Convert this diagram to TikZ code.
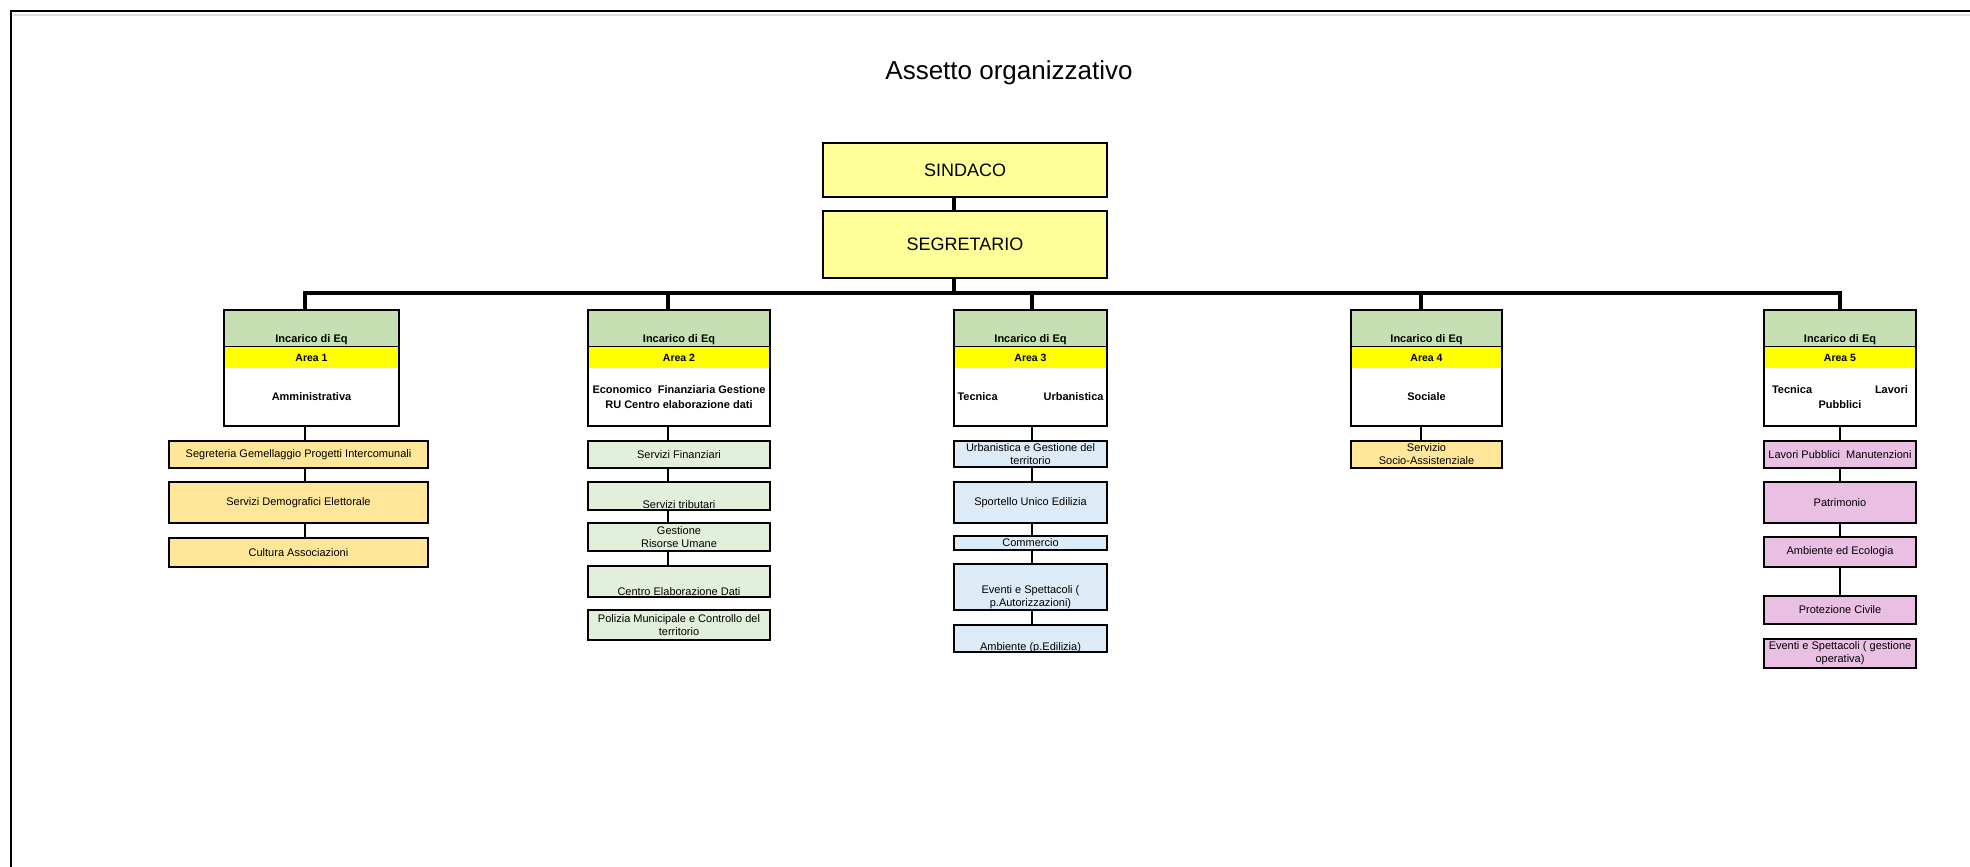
\documentclass[tikz,border=0pt]{standalone}
\usepackage{fontspec}
\setmainfont{Liberation Sans}
\definecolor{topyellow}{HTML}{FFFF99}
\definecolor{eqgreen}{HTML}{C6E0B4}
\definecolor{areayellow}{HTML}{FFFF00}
\definecolor{subtan}{HTML}{FFE699}
\definecolor{subgreen}{HTML}{E2EFDA}
\definecolor{subblue}{HTML}{DDEBF7}
\definecolor{subpink}{HTML}{EABFE4}

\begin{document}
\begin{tikzpicture}[x=1pt,y=-1pt,
  every node/.style={outer sep=0pt},
  main node/.style={draw,line width=1.3pt,fill=topyellow,minimum width=284pt,font=\fontsize{18}{20}\selectfont},
  eq node/.style={draw,line width=1.3pt,fill=eqgreen,minimum height=37pt,inner sep=1pt},
  eq label/.style={anchor=south,inner sep=1pt,yshift=1.5pt,font=\fontsize{11}{12}\selectfont\bfseries},
  area node/.style={fill=areayellow,minimum height=21pt,inner sep=1pt,font=\fontsize{10.5}{12}\selectfont\bfseries},
  name node/.style={fill=white,minimum height=58pt,inner sep=1pt,align=center,font=\fontsize{11}{15}\selectfont\bfseries},
  sub node/.style={draw,line width=1.3pt,fill=#1,inner sep=1pt,align=center,font=\fontsize{11}{13}\selectfont},
  low label/.style={anchor=south,inner sep=1pt,align=center,font=\fontsize{11}{13}\selectfont},
  thin link/.style={line width=1.3pt},
  bus link/.style={line width=4pt}]

  \useasboundingbox (0,0) rectangle (1970,867);
  \draw[line width=2.5pt] (11,867) -- (11,11) -- (1970,11);
  \draw[gray!25,line width=1.5pt] (13,15) -- (1970,15);

  \node[font=\fontsize{26}{30}\selectfont] (titolo) at (1009,73) {Assetto organizzativo};

  \node[main node,minimum height=54pt] (sindaco) at (965,170) {SINDACO};
  \node[main node,minimum height=67pt] (segretario) at (965,244.5) {SEGRETARIO};

  \coordinate (spine) at (954,293);
  \coordinate (a1x) at (305,293);
  \coordinate (a2x) at (668,293);
  \coordinate (a3x) at (1032,293);
  \coordinate (a4x) at (1421,293);
  \coordinate (a5x) at (1840,293);

  \node[eq node,minimum width=175pt,label={[eq label]south:Incarico di Eq}] (a1g) at (311.5,328.5) {};
  \node[area node,minimum width=175pt] (a1y) at (311.5,357.5) {Area 1};
  \node[name node,minimum width=175pt] (a1w) at (311.5,397) {Amministrativa};
  \node[sub node=subtan,minimum width=259pt,minimum height=27pt] (a1s1) at (298.5,454.5) {Segreteria Gemellaggio Progetti Intercomunali};
  \node[sub node=subtan,minimum width=259pt,minimum height=41pt] (a1s2) at (298.5,502.5) {Servizi Demografici Elettorale};
  \node[sub node=subtan,minimum width=259pt,minimum height=29pt] (a1s3) at (298.5,552.5) {Cultura Associazioni};

  \node[eq node,minimum width=182pt,label={[eq label]south:Incarico di Eq}] (a2g) at (679,328.5) {};
  \node[area node,minimum width=182pt] (a2y) at (679,357.5) {Area 2};
  \node[name node,minimum width=182pt] (a2w) at (679,397) {Economico~~Finanziaria Gestione\\RU Centro elaborazione dati};
  \node[sub node=subgreen,minimum width=182pt,minimum height=27pt] (a2s1) at (679,454.5) {Servizi Finanziari};
  \node[sub node=subgreen,minimum width=182pt,minimum height=28pt,label={[low label]south:Servizi tributari}] (a2s2) at (679,496) {};
  \node[sub node=subgreen,minimum width=182pt,minimum height=28pt] (a2s3) at (679,537) {Gestione\\Risorse Umane};
  \node[sub node=subgreen,minimum width=182pt,minimum height=31pt,label={[low label]south:Centro Elaborazione Dati}] (a2s4) at (679,581.5) {};
  \node[sub node=subgreen,minimum width=182pt,minimum height=30pt] (a2s5) at (679,625) {Polizia Municipale e Controllo del\\territorio};

  \node[eq node,minimum width=153pt,label={[eq label]south:Incarico di Eq}] (a3g) at (1030.5,328.5) {};
  \node[area node,minimum width=153pt] (a3y) at (1030.5,357.5) {Area 3};
  \node[name node,minimum width=153pt,text width=146pt,inner xsep=0pt] (a3w) at (1030.5,397) {Tecnica\hfill Urbanistica};
  \node[sub node=subblue,minimum width=153pt,minimum height=26pt] (a3s1) at (1030.5,454) {Urbanistica e Gestione del\\territorio};
  \node[sub node=subblue,minimum width=153pt,minimum height=41pt] (a3s2) at (1030.5,502.5) {Sportello Unico Edilizia};
  \node[sub node=subblue,minimum width=153pt,minimum height=14pt] (a3s3) at (1030.5,543) {Commercio};
  \node[sub node=subblue,minimum width=153pt,minimum height=46pt,label={[low label]south:Eventi e Spettacoli (\\p.Autorizzazioni)}] (a3s4) at (1030.5,587) {};
  \node[sub node=subblue,minimum width=153pt,minimum height=27pt,label={[low label,yshift=-1.5pt]south:Ambiente (p.Edilizia)}] (a3s5) at (1030.5,638.5) {};

  \node[eq node,minimum width=151pt,label={[eq label]south:Incarico di Eq}] (a4g) at (1426.5,328.5) {};
  \node[area node,minimum width=151pt] (a4y) at (1426.5,357.5) {Area 4};
  \node[name node,minimum width=151pt] (a4w) at (1426.5,397) {Sociale};
  \node[sub node=subtan,minimum width=151pt,minimum height=27pt] (a4s1) at (1426.5,454.5) {Servizio\\Socio-Assistenziale};

  \node[eq node,minimum width=152pt,label={[eq label]south:Incarico di Eq}] (a5g) at (1840,328.5) {};
  \node[area node,minimum width=152pt] (a5y) at (1840,357.5) {Area 5};
  \node[name node,minimum width=152pt,text width=136pt,inner xsep=0pt] (a5w) at (1840,397) {Tecnica\hfill Lavori\\Pubblici};
  \node[sub node=subpink,minimum width=152pt,minimum height=27pt] (a5s1) at (1840,454.5) {Lavori Pubblici~~Manutenzioni};
  \node[sub node=subpink,minimum width=152pt,minimum height=41pt] (a5s2) at (1840,502.5) {Patrimonio};
  \node[sub node=subpink,minimum width=152pt,minimum height=30pt] (a5s3) at (1840,552) {Ambiente ed Ecologia};
  \node[sub node=subpink,minimum width=152pt,minimum height=28pt] (a5s4) at (1840,610) {Protezione Civile};
  \node[sub node=subpink,minimum width=152pt,minimum height=29pt] (a5s5) at (1840,653.5) {Eventi e Spettacoli ( gestione\\operativa)};

  \draw[line width=1.3pt] (a1g.north west) rectangle (a1w.south east);
  \draw[line width=1.3pt] (a2g.north west) rectangle (a2w.south east);
  \draw[line width=1.3pt] (a3g.north west) rectangle (a3w.south east);
  \draw[line width=1.3pt] (a4g.north west) rectangle (a4w.south east);
  \draw[line width=1.3pt] (a5g.north west) rectangle (a5w.south east);

  \draw[bus link] (spine |- sindaco.south) -- (spine |- segretario.north);
  \draw[bus link] (spine |- segretario.south) -- (spine);
  \draw[bus link] (a1x |- a1g.north) -- (a1x) -- (a5x) -- (a5x |- a5g.north);
  \draw[bus link] (a2x) -- (a2x |- a2g.north);
  \draw[bus link] (a3x) -- (a3x |- a3g.north);
  \draw[bus link] (a4x) -- (a4x |- a4g.north);

  \draw[thin link] (a1x |- a1w.south) -- (a1x |- a1s1.north);
  \draw[thin link] (a1x |- a1s1.south) -- (a1x |- a1s2.north);
  \draw[thin link] (a1x |- a1s2.south) -- (a1x |- a1s3.north);

  \draw[thin link] (a2x |- a2w.south) -- (a2x |- a2s1.north);
  \draw[thin link] (a2x |- a2s1.south) -- (a2x |- a2s2.north);
  \draw[thin link] (a2x |- a2s2.south) -- (a2x |- a2s3.north);
  \draw[thin link] (a2x |- a2s3.south) -- (a2x |- a2s4.north);

  \draw[thin link] (a3x |- a3w.south) -- (a3x |- a3s1.north);
  \draw[thin link] (a3x |- a3s1.south) -- (a3x |- a3s2.north);
  \draw[thin link] (a3x |- a3s2.south) -- (a3x |- a3s3.north);
  \draw[thin link] (a3x |- a3s3.south) -- (a3x |- a3s4.north);
  \draw[thin link] (a3x |- a3s4.south) -- (a3x |- a3s5.north);

  \draw[thin link] (a4x |- a4w.south) -- (a4x |- a4s1.north);

  \draw[thin link] (a5x |- a5w.south) -- (a5x |- a5s1.north);
  \draw[thin link] (a5x |- a5s1.south) -- (a5x |- a5s2.north);
  \draw[thin link] (a5x |- a5s2.south) -- (a5x |- a5s3.north);
  \draw[thin link] (a5x |- a5s3.south) -- (a5x |- a5s4.north);
\end{tikzpicture}
\end{document}
